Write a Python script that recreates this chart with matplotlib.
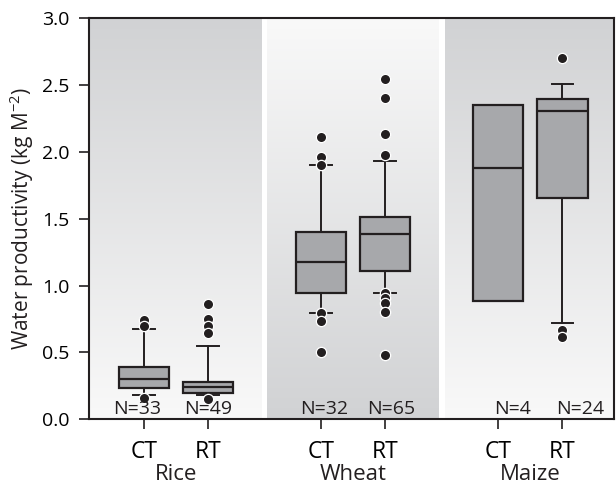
import numpy as np
import matplotlib
matplotlib.use("Agg")
import matplotlib.pyplot as plt
from matplotlib.colors import LinearSegmentedColormap
from matplotlib.transforms import blended_transform_factory

plt.rcParams['font.family'] = ['Open Sans', 'DejaVu Sans']
plt.rcParams['mathtext.fontset'] = 'custom'
plt.rcParams['mathtext.rm'] = 'Open Sans'

# crop / tillage groups
crops = ["Rice", "Wheat", "Maize"]
tillage = ["CT", "RT"]
counts = [33, 49, 32, 65, 4, 24]

# box statistics, in crop order then tillage order
q1 = [0.236, 0.194, 0.945, 1.109, 0.887, 1.657]
med = [0.301, 0.239, 1.179, 1.384, 1.877, 2.303]
q3 = [0.389, 0.281, 1.401, 1.513, 2.351, 2.396]
whislo = [0.182, 0.182, 0.797, 0.947, 0.887, 0.718]
whishi = [0.673, 0.548, 1.900, 1.934, 2.351, 2.505]
fliers = [
    [0.743, 0.700, 0.162],
    [0.862, 0.750, 0.700, 0.643, 0.150],
    [2.114, 1.960, 1.900, 0.797, 0.737, 0.506],
    [2.543, 2.405, 2.134, 1.975, 0.947, 0.905, 0.868, 0.800, 0.481],
    [],
    [2.700, 0.668, 0.618],
]

dark = "#231f20"
boxgrey = "#a7a8ab"
bandgrey = "#d1d2d4"
light = "#f9f9f9"

fig = plt.figure(figsize=(6.16, 4.87), dpi=100)
ax = fig.add_axes([89 / 616, 67.7 / 487, 525 / 616, 401 / 487])

group_centers = np.array([1.35, 4.1, 6.85])
positions = np.ravel([[c - 0.5, c + 0.5] for c in group_centers])
band_half = 1.33

# shaded backgrounds behind each crop, alternating gradient direction
shade = LinearSegmentedColormap.from_list("shade", [light, bandgrey])
grad = np.linspace(0, 1, 256).reshape(-1, 1)
for i, c in enumerate(group_centers):
    ax.imshow(grad, cmap=shade, aspect="auto",
              origin="upper" if i % 2 else "lower",
              extent=(max(c - band_half, 0), min(c + band_half, 8.15), 0, 3),
              zorder=0, vmin=0, vmax=1)

stats = []
for i in range(len(positions)):
    stats.append(dict(med=med[i], q1=q1[i], q3=q3[i], whislo=whislo[i],
                      whishi=whishi[i], fliers=fliers[i]))

ax.bxp(stats, positions=positions, widths=0.78, patch_artist=True,
       capwidths=0.34,
       boxprops=dict(facecolor=boxgrey, edgecolor=dark, linewidth=1.6),
       medianprops=dict(color=dark, linewidth=1.6),
       whiskerprops=dict(color=dark, linewidth=1.4),
       capprops=dict(color=dark, linewidth=1.4),
       flierprops=dict(marker="o", markerfacecolor=dark, markeredgecolor="white",
                       markeredgewidth=0.9, markersize=7.4),
       zorder=3)

n_shift = [-0.1, 0.0, 0.05, 0.09, 0.23, 0.28]
for p, n, s in zip(positions, counts, n_shift):
    ax.text(p + s, 0.006, f"N={n}", ha="center", va="bottom", fontsize=14,
            color=dark, zorder=4)

ax.set_xlim(0, 8.15)
ax.set_ylim(0, 3.0)
ax.set_yticks(np.arange(0, 3.01, 0.5))
ax.set_yticklabels([f"{v:.1f}" for v in np.arange(0, 3.01, 0.5)], fontsize=14)
ax.set_xticks(positions)
ax.set_xticklabels(tillage * 3, fontsize=16.5)
ax.tick_params(axis="both", direction="out", length=7, width=1.2, color=dark)
ax.tick_params(axis="x", pad=8)
ax.tick_params(axis="y", pad=7)

trans = blended_transform_factory(ax.transData, ax.transAxes)
for c, name in zip(group_centers, crops):
    ax.text(c, -0.137, name, transform=trans, ha="center", va="center",
            fontsize=16, color=dark)

ax.set_ylabel(r"Water productivity (kg M$^{-2}$)", fontsize=15, color=dark,
              labelpad=4)

for sp in ax.spines.values():
    sp.set_color(dark)
    sp.set_linewidth(1.5)
    sp.set_zorder(5)

fig.savefig("out.png", dpi=100, facecolor="white")
